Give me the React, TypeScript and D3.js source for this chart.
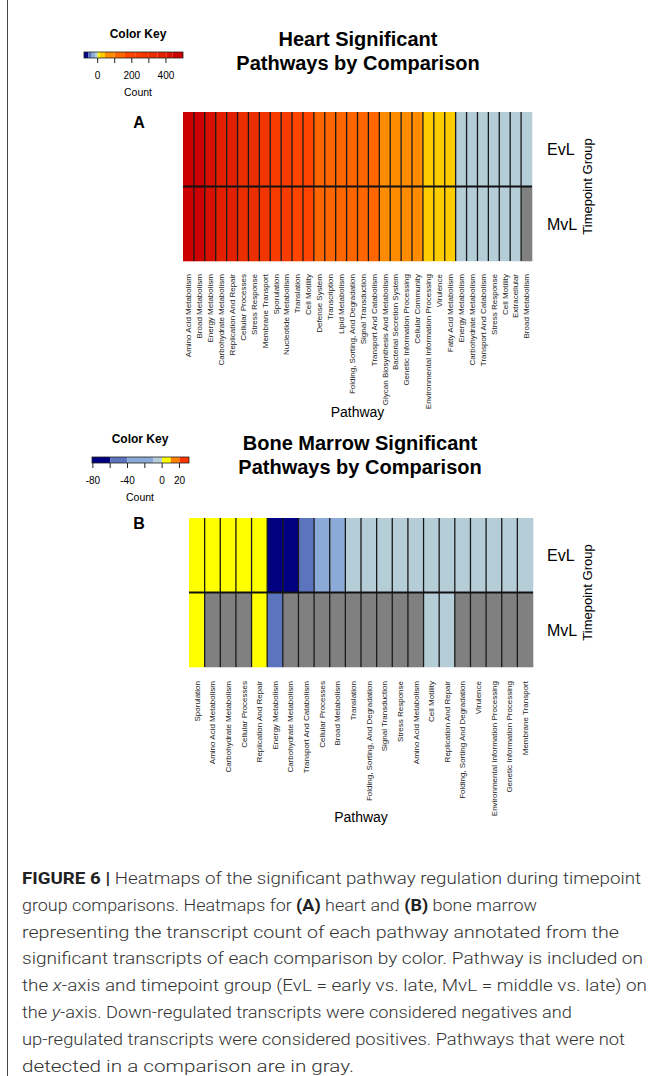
import React from 'react';
import * as d3 from 'd3';

// ---------- Heart panel data ----------
const heartPathways = [
  'Amino Acid Metabolism', 'Broad Metabolism', 'Energy Metabolism', 'Carbohydrate Metabolism',
  'Replication And Repair', 'Cellular Processes', 'Stress Response', 'Membrane Transport',
  'Sporulation', 'Nucleotide Metabolism', 'Translation', 'Cell Motility', 'Defense System',
  'Transcription', 'Lipid Metabolism', 'Folding, Sorting, And Degradation', 'Signal Transduction',
  'Transport And Catabolism', 'Glycan Biosynthesis And Metabolism', 'Bacterial Secretion System',
  'Genetic Information Processing', 'Cellular Community', 'Environmental Information Processing',
  'Virulence', 'Fatty Acid Metabolism', 'Energy Metabolism', 'Carbohydrate Metabolism',
  'Transport And Catabolism', 'Stress Response', 'Cell Motility', 'Extracellular', 'Broad Metabolism',
];
const heartEvL: (number | null)[] = [
  470, 450, 420, 380, 370, 330, 320, 280, 240, 235, 200, 180, 150, 140, 130, 120,
  115, 110, 90, 80, 70, 60, 35, 30, 25, -8, -8, -8, -8, -8, -8, -8,
];
const heartMvL: (number | null)[] = [
  470, 450, 420, 380, 370, 330, 320, 280, 240, 235, 200, 180, 150, 140, 130, 120,
  115, 110, 90, 80, 70, 60, 35, 30, 25, -8, -8, -8, -8, -8, -8, null,
];
const heartBreaks = [-55, -35, -16, 0, 14, 43, 100, 160, 220, 260, 300, 350, 405, 440];
const heartColors = [
  '#00007f', '#5670b9', '#8babd8', '#b4cdd6', '#fff200', '#ffcc00', '#ff8c00', '#ff6600',
  '#ff4400', '#f83c00', '#f03500', '#ea2e00', '#e22000', '#d81000', '#cc0000',
];
const heartKeyDomain = [-80, 500];
const heartKeyTicks = [0, 100, 200, 300, 400];
const heartKeyLabels = [0, 200, 400];

// ---------- Bone marrow panel data ----------
const marrowPathways = [
  'Sporulation', 'Amino Acid Metabolism', 'Carbohydrate Metabolism', 'Cellular Processes',
  'Replication And Repair', 'Energy Metabolism', 'Carbohydrate Metabolism', 'Transport And Catabolism',
  'Cellular Processes', 'Broad Metabolism', 'Translation', 'Folding, Sorting, And Degradation',
  'Signal Transduction', 'Stress Response', 'Amino Acid Metabolism', 'Cell Motility',
  'Replication And Repair', 'Folding, Sorting And Degradation', 'Virulence',
  'Environmental Information Processing', 'Genetic Information Processing', 'Membrane Transport',
];
const marrowEvL: (number | null)[] = [
  5, 5, 5, 5, 5, -75, -75, -50, -25, -25, -5, -5, -5, -5, -5, -5, -5, -5, -5, -5, -5, -5,
];
const marrowMvL: (number | null)[] = [
  5, null, null, null, 5, -50, null, null, null, null, null, null, null, null, null, -5, -5,
  null, null, null, null, null,
];
const marrowBreaks = [-60, -40, -10, 0, 10, 20];
const marrowColors = ['#000080', '#5b74bd', '#8baad8', '#b4cdd6', '#ffff00', '#ff8000', '#ff3300'];
const marrowKeyDomain = [-81, 31];
const marrowKeyTicks = [-80, -60, -40, -20, 0, 20];
const marrowKeyLabels = [-80, -40, 0, 20];

const groups = ['EvL', 'MvL'];
const missingColor = '#808080';
const FONT = "'Liberation Sans', Arial, Helvetica, sans-serif";
const CAPTION_FONT = "Roboto, 'Liberation Sans', Arial, sans-serif";

type KeyProps = {
  x0: number; x1: number; y: number; cx: number;
  domain: number[]; breaks: number[]; colors: string[];
  ticks: number[]; labels: number[];
};

function ColorKey({ x0, x1, y, cx, domain, breaks, colors, ticks, labels }: KeyProps) {
  const color = d3.scaleThreshold<number, string>().domain(breaks).range(colors);
  const sx = d3.scaleLinear().domain(domain).range([x0, x1]);
  const edges = [domain[0], ...breaks.filter((b) => b > domain[0] && b < domain[1]), domain[1]];
  const barH = 6;
  return (
    <g fontFamily={FONT}>
      <text x={cx} y={y - 14} textAnchor="middle" fontSize={12} fontWeight="bold">Color Key</text>
      {edges.slice(0, -1).map((e, i) => (
        <rect key={i} x={sx(e)} y={y} width={sx(edges[i + 1]) - sx(e)} height={barH}
          fill={color((e + edges[i + 1]) / 2)} />
      ))}
      <rect x={x0} y={y} width={x1 - x0} height={barH} fill="none" stroke="#222" strokeWidth={0.8} />
      {ticks.map((t) => (
        <line key={t} x1={sx(t)} x2={sx(t)} y1={y + barH} y2={y + barH + 5} stroke="#222" strokeWidth={1} />
      ))}
      {labels.map((t) => (
        <text key={t} x={sx(t)} y={y + barH + 21} textAnchor="middle" fontSize={10}>{t}</text>
      ))}
      <text x={cx} y={y + barH + 38} textAnchor="middle" fontSize={10.5}>Count</text>
    </g>
  );
}

type HeatProps = {
  pathways: string[]; rows: (number | null)[][];
  x0: number; x1: number; y0: number; y1: number;
  breaks: number[]; colors: string[]; labelY: number; axisY: number;
  titleLines: string[]; titleY: number; titleX: number; letter: string; letterY: number;
};

function Heatmap(p: HeatProps) {
  const color = d3.scaleThreshold<number, string>().domain(p.breaks).range(p.colors);
  const x = d3.scaleBand<number>().domain(d3.range(p.pathways.length)).range([p.x0, p.x1]);
  const y = d3.scaleBand<string>().domain(groups).range([p.y0, p.y1]);
  const bw = x.bandwidth();
  const bh = y.bandwidth();
  return (
    <g fontFamily={FONT}>
      {p.titleLines.map((t, i) => (
        <text key={i} x={p.titleX} y={p.titleY + i * 23.5} textAnchor="middle" fontSize={20} fontWeight="bold">{t}</text>
      ))}
      <text x={139} y={p.letterY} textAnchor="middle" fontSize={16} fontWeight="bold">{p.letter}</text>
      {groups.map((g, r) =>
        p.rows[r].map((v, c) => (
          <rect key={g + c} x={x(c)} y={y(g)} width={bw + 0.3} height={bh + 0.3}
            fill={v === null ? missingColor : color(v)} />
        ))
      )}
      {d3.range(1, p.pathways.length).map((c) => (
        <line key={'s' + c} x1={x(c)} x2={x(c)} y1={p.y0} y2={p.y1} stroke="#1a1a1a" strokeWidth={1.3} />
      ))}
      <line x1={p.x0} x2={p.x1} y1={y('MvL')} y2={y('MvL')} stroke="#111" strokeWidth={2} />
      {groups.map((g) => (
        <text key={g} x={547} y={(y(g) as number) + bh / 2 + 6} fontSize={16}>{g}</text>
      ))}
      <text transform={`translate(592,${(p.y0 + p.y1) / 2}) rotate(-90)`} textAnchor="middle"
        fontSize={13}>Timepoint Group</text>
      {p.pathways.map((name, c) => (
        <text key={'l' + c} transform={`translate(${(x(c) as number) + bw / 2},${p.labelY}) rotate(-90)`}
          textAnchor="end" dy="0.35em" fontSize={8} fill="#222">{name}</text>
      ))}
      <text x={(p.x0 + p.x1) / 2} y={p.axisY} textAnchor="middle" fontSize={14}>Pathway</text>
    </g>
  );
}

type Seg = { t: string; b?: boolean; i?: boolean };
const captionLines: Seg[][] = [
  [{ t: 'FIGURE 6 | ', b: true }, { t: 'Heatmaps of the significant pathway regulation during timepoint' }],
  [{ t: 'group comparisons. Heatmaps for ' }, { t: '(A)', b: true }, { t: ' heart and ' }, { t: '(B)', b: true }, { t: ' bone marrow' }],
  [{ t: 'representing the transcript count of each pathway annotated from the' }],
  [{ t: 'significant transcripts of each comparison by color. Pathway is included on' }],
  [{ t: 'the ' }, { t: 'x', i: true }, { t: '-axis and timepoint group (EvL = early vs. late, MvL = middle vs. late) on' }],
  [{ t: 'the ' }, { t: 'y', i: true }, { t: '-axis. Down-regulated transcripts were considered negatives and' }],
  [{ t: 'up-regulated transcripts were considered positives. Pathways that were not' }],
  [{ t: 'detected in a comparison are in gray.' }],
];
const captionWidths = [619, 515, 597, 621, 625, 550, 603, 332];

export default function App() {
  return (
    <svg width={671} height={1076} style={{ position: 'absolute', left: 0, top: 0, background: '#fff' }}>
      <line x1={7.5} x2={7.5} y1={0} y2={1076} stroke="#444" strokeWidth={1} />
      <ColorKey x0={84} x1={183} y={52} cx={138} domain={heartKeyDomain} breaks={heartBreaks}
        colors={heartColors} ticks={heartKeyTicks} labels={heartKeyLabels} />
      <Heatmap pathways={heartPathways} rows={[heartEvL, heartMvL]} x0={183} x1={532} y0={112} y1={261}
        breaks={heartBreaks} colors={heartColors} labelY={274} axisY={417}
        titleLines={['Heart Significant', 'Pathways by Comparison']} titleY={46} titleX={358}
        letter="A" letterY={128} />
      <ColorKey x0={92} x1={189} y={457} cx={140} domain={marrowKeyDomain} breaks={marrowBreaks}
        colors={marrowColors} ticks={marrowKeyTicks} labels={marrowKeyLabels} />
      <Heatmap pathways={marrowPathways} rows={[marrowEvL, marrowMvL]} x0={189} x1={533} y0={518} y1={667}
        breaks={marrowBreaks} colors={marrowColors} labelY={681} axisY={822}
        titleLines={['Bone Marrow Significant', 'Pathways by Comparison']} titleY={450} titleX={360}
        letter="B" letterY={529} />
      <g fontFamily={CAPTION_FONT} fontWeight={300} fontSize={17} fill="#333">
        {captionLines.map((segs, li) => (
          <text key={li} x={22} y={884 + li * 26.8} textLength={captionWidths[li]} lengthAdjust="spacingAndGlyphs">
            {segs.map((s, si) => (
              <tspan key={si} fontWeight={s.b ? 'bold' : 300} fontStyle={s.i ? 'italic' : 'normal'}
                fill={s.b ? '#222' : '#333'}>{s.t}</tspan>
            ))}
          </text>
        ))}
      </g>
    </svg>
  );
}
